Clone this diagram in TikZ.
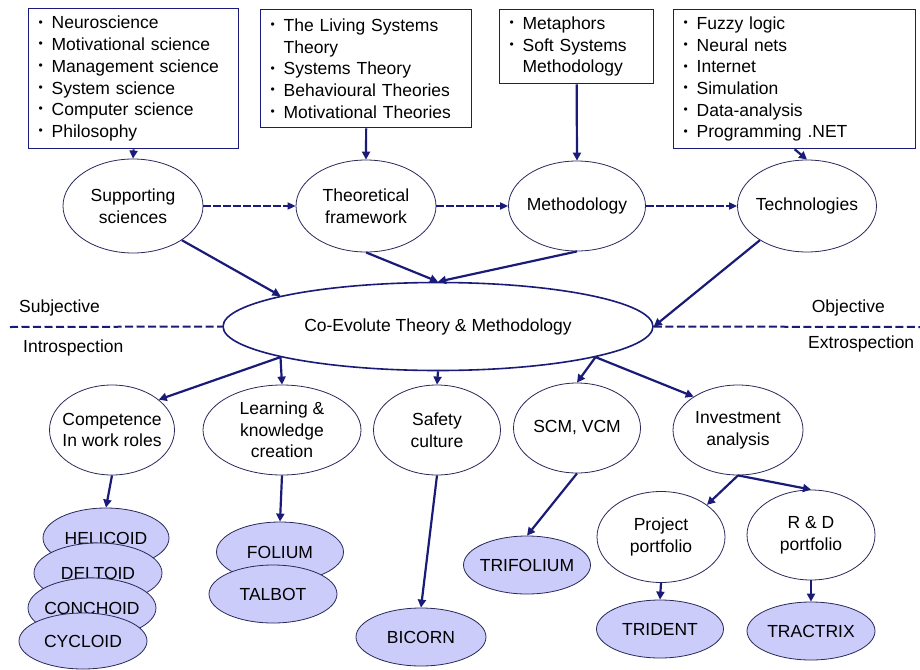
\documentclass[tikz,border=0pt]{standalone}
\usepackage{fontspec}
\setmainfont{Liberation Sans}
\usetikzlibrary{shapes.geometric,arrows.meta}
\definecolor{navy}{RGB}{26,26,120}
\definecolor{edgec}{RGB}{40,40,90}
\definecolor{lav}{RGB}{204,204,250}
\newcommand\bul{\makebox[13pt][l]{\raisebox{0.3ex}{\fontsize{12}{12}\selectfont•}}}
\newcommand\hang{\hspace*{13pt}}
\begin{document}
\begin{tikzpicture}[x=1pt,y=-1pt,
  txt/.style={font=\fontsize{17.5}{21.7}\selectfont},
  box/.style={draw=navy, line width=1.3pt, align=left, inner xsep=10pt, inner ysep=0pt, anchor=north west, txt},
  ell/.style={ellipse, draw=edgec, line width=0.8pt, inner sep=0pt, fill=white},
  crv/.style={ell, fill=lav},
  lbl/.style={txt, inner sep=0pt, align=center},
  arr/.style={draw=navy, line width=2.2pt, -{Triangle[length=8pt,width=8pt]}},
  darr/.style={draw=navy, line width=1.8pt, dash pattern=on 8pt off 2pt, -{Triangle[length=8pt,width=7pt]}},
  dline/.style={draw=navy, line width=2pt, dash pattern=on 8pt off 3.5pt}
]
\useasboundingbox (0,0) rectangle (920,669);

% top boxes
\node[box, text width=190pt, minimum height=140pt] (b1) at (28,8)
  {\bul Neuroscience\\\bul Motivational science\\\bul Management science\\\bul System science\\\bul Computer science\\\bul Philosophy};
\node[box, text width=191pt, minimum height=118pt] (b2) at (260,9)
  {\bul The Living Systems\\\hang Theory\\\bul Systems Theory\\\bul Behavioural Theories\\\bul Motivational Theories};
\node[box, text width=134pt, minimum height=74pt] (b3) at (499,9)
  {\bul Metaphors\\\bul Soft Systems\\\hang Methodology};
\node[box, text width=222pt, minimum height=139pt] (b4) at (673,9)
  {\bul Fuzzy logic\\\bul Neural nets\\\bul Internet\\\bul Simulation\\\bul Data-analysis\\\bul Programming .NET};

% row 1
\node[ell, minimum width=140pt, minimum height=94pt] (ss) at (133,206) {};
\node[lbl] (ssT) at (ss) {Supporting\\sciences};
\node[ell, minimum width=140pt, minimum height=92pt] (tf) at (366,206) {};
\node[lbl] (tfT) at (tf) {Theoretical\\framework};
\node[ell, minimum width=137pt, minimum height=90pt] (meth) at (577,206) {};
\node[lbl] (methT) at (meth) {Methodology};
\node[ell, minimum width=139pt, minimum height=92pt] (tech) at (807,206) {};
\node[lbl] (techT) at (tech) {Technologies};

% central
\node[ell, draw=navy, line width=1.6pt, minimum width=430pt, minimum height=88pt] (co) at (438,326.5) {};
\node[lbl] (coT) at (co) {Co-Evolute Theory \& Methodology};
\coordinate (dl) at (10,327);
\coordinate (dr) at (920,327);
\draw[dline] (dl) -- (co.west);
\draw[dline] (co.east) -- (dr);
\node[lbl, anchor=west] (subj) at (19,308) {Subjective};
\node[lbl, anchor=west] (intro) at (23,348) {Introspection};
\node[lbl, anchor=east] (obj) at (885,308) {Objective};
\node[lbl, anchor=west] (extro) at (808,344) {Extrospection};

% row 2
\node[ell, minimum width=125pt, minimum height=90pt] (comp) at (112,430) {};
\node[lbl] (compT) at (comp) {Competence\\In work roles};
\node[ell, minimum width=158pt, minimum height=90pt] (learn) at (282,430) {};
\node[lbl] (learnT) at (learn) {Learning \&\\knowledge\\creation};
\node[ell, minimum width=127pt, minimum height=90pt] (saf) at (437,430) {};
\node[lbl] (safT) at (saf) {Safety\\culture};
\node[ell, minimum width=127pt, minimum height=90pt] (scm) at (577,428) {};
\node[lbl] (scmT) at (scm) {SCM, VCM};
\node[ell, minimum width=130pt, minimum height=90pt] (inv) at (738,430) {};
\node[lbl] (invT) at (inv) {Investment\\analysis};
\node[ell, minimum width=128pt, minimum height=91pt] (proj) at (661,537) {};
\node[lbl] (projT) at (proj) {Project\\portfolio};
\node[ell, minimum width=128pt, minimum height=90pt] (rd) at (811,535) {};
\node[lbl] (rdT) at (rd) {R \& D\\portfolio};

% curves
\node[crv, minimum width=126pt, minimum height=60pt] (hel) at (106,538) {};
\node[lbl] (helT) at (hel) {HELICOID};
\node[crv, minimum width=128pt, minimum height=60pt] (del) at (98,573) {};
\node[lbl] (delT) at (del) {DELTOID};
\node[crv, minimum width=128pt, minimum height=60pt] (con) at (92,608) {};
\node[lbl] (conT) at (con) {CONCHOID};
\node[crv, minimum width=128pt, minimum height=56pt] (cyc) at (83,641) {};
\node[lbl] (cycT) at (cyc) {CYCLOID};
\node[crv, minimum width=127pt, minimum height=60pt] (fol) at (280,552) {};
\node[lbl] (folT) at (fol) {FOLIUM};
\node[crv, minimum width=128pt, minimum height=58pt] (tal) at (273,594) {};
\node[lbl] (talT) at (tal) {TALBOT};
\node[crv, minimum width=130pt, minimum height=58pt] (bic) at (421,637) {};
\node[lbl] (bicT) at (bic) {BICORN};
\node[crv, minimum width=127pt, minimum height=58pt] (trif) at (527,565) {};
\node[lbl] (trifT) at (trif) {TRIFOLIUM};
\node[crv, minimum width=127pt, minimum height=58pt] (trid) at (660,629) {};
\node[lbl] (tridT) at (trid) {TRIDENT};
\node[crv, minimum width=128pt, minimum height=58pt] (trac) at (811,631) {};
\node[lbl] (tracT) at (trac) {TRACTRIX};

% arrows
\draw[arr] (b1.south) -- (ss.north);
\draw[arr] (b2.south) -- (tf.north);
\draw[arr] (b3.south) -- (meth.north);
\draw[arr] (b4.south) -- (tech.north);
\draw[darr] (ss) -- (tf);
\draw[darr] (tf) -- (meth);
\draw[darr] (meth) -- (tech);
\draw[arr] (ss.-35) -- (co.169);
\draw[arr] (tf.south) -- (co.north);
\draw[arr] (meth.south) -- (co.north);
\draw[arr] (tech.216.7) -- (co.east);
\draw[arr] (co.191.8) -- (comp.33.7);
\draw[arr] (co.191.8) -- (learn.north);
\draw[arr] (co.south) -- (saf.north);
\draw[arr] (co.-11.7) -- (scm.north);
\draw[arr] (co.-11.7) -- (inv.143.7);
\draw[arr] (comp.south) -- (hel.north);
\draw[arr] (learn.south) -- (fol.north);
\draw[arr] (saf.south) -- (bic.north);
\draw[arr] (scm.south) -- (trif.north);
\draw[arr] (inv.south) -- (proj.35);
\draw[arr] (inv.south) -- (rd.north);
\draw[arr] (proj.south) -- (trid.north);
\draw[arr] (rd.south) -- (trac.north);
\end{tikzpicture}
\end{document}
